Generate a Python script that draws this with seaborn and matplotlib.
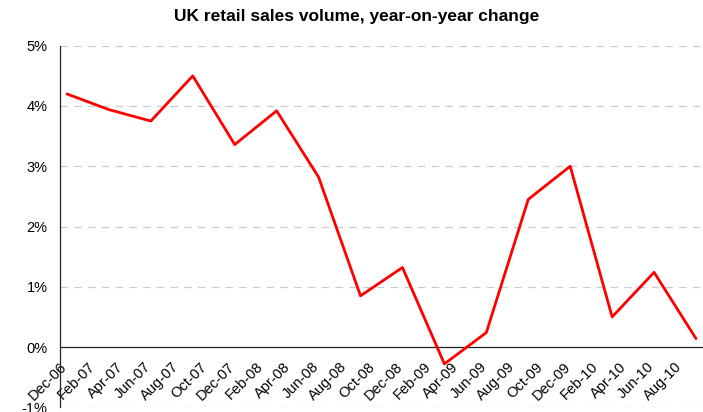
import matplotlib
matplotlib.use("Agg")
import matplotlib.pyplot as plt
import seaborn as sns
import pandas as pd
import numpy as np

# Quarterly readings, year-on-year % change in retail sales volume
quarters = ["Dec-06", "Mar-07", "Jun-07", "Sep-07", "Dec-07", "Mar-08", "Jun-08", "Sep-08",
            "Dec-08", "Mar-09", "Jun-09", "Sep-09", "Dec-09", "Mar-10", "Jun-10", "Sep-10"]
yoy_change = [4.20, 3.94, 3.75, 4.50, 3.36, 3.92, 2.82, 0.85,
              1.32, -0.28, 0.24, 2.45, 3.00, 0.50, 1.24, 0.14]

# Month axis labels, every second month
tick_labels = ["Dec-06", "Feb-07", "Apr-07", "Jun-07", "Aug-07", "Oct-07", "Dec-07", "Feb-08",
               "Apr-08", "Jun-08", "Aug-08", "Oct-08", "Dec-08", "Feb-09", "Apr-09", "Jun-09",
               "Aug-09", "Oct-09", "Dec-09", "Feb-10", "Apr-10", "Jun-10", "Aug-10"]

start = pd.Timestamp("2006-12-01")


def month_index(label):
    d = pd.to_datetime(label, format="%b-%y")
    return (d.year - start.year) * 12 + (d.month - start.month)


df = pd.DataFrame({
    "quarter": quarters,
    "change": yoy_change,
})
# points sit in the middle of their month
df["x"] = [month_index(q) + 0.5 for q in df["quarter"]]

sns.set_style("white")
plt.rcParams["font.family"] = ["Liberation Sans", "DejaVu Sans"]
plt.rcParams["text.color"] = "black"
plt.rcParams["xtick.color"] = "black"
plt.rcParams["ytick.color"] = "black"

fig = plt.figure(figsize=(7.03, 4.12), dpi=100)
ax = fig.add_axes([0.0853, 0.0114, 0.9147, 0.8776])

sns.lineplot(data=df, x="x", y="change", ax=ax, color="#ff0000", linewidth=2.0,
             legend=False, zorder=3)

# axis line through zero, set before the ticks since it resets them
ax.spines["top"].set_visible(False)
ax.spines["right"].set_visible(False)
ax.spines["bottom"].set_position(("data", 0))
for s in ("left", "bottom"):
    ax.spines[s].set_color("#222222")
    ax.spines[s].set_linewidth(0.9)

ax.set_xlim(0, 46)
ax.set_ylim(-1, 5)

yt = np.arange(-1, 6)
ax.set_yticks(yt)
ax.set_yticklabels([f"{v}%" for v in yt], fontsize=10.5)
for v in yt:
    if v != 0:
        ax.axhline(v, color="#cccccc", linewidth=0.9, linestyle=(0, (6, 5)), zorder=1)

ax.set_xticks([month_index(t) for t in tick_labels])
ax.set_xticklabels(tick_labels, rotation=45, ha="right", rotation_mode="anchor", fontsize=10.5)

ax.tick_params(axis="y", direction="out", length=5, width=0.9, color="#222222", pad=4,
               labelcolor="black")
ax.tick_params(axis="x", direction="out", length=5, width=0.9, color="#222222", pad=4,
               labelcolor="black")
ax.set_xlabel("")
ax.set_ylabel("")

fig.text(0.507, 0.96, "UK retail sales volume, year-on-year change", ha="center", va="center",
         fontsize=12.5, fontweight="bold", color="black")

fig.savefig("out.png", dpi=100)
